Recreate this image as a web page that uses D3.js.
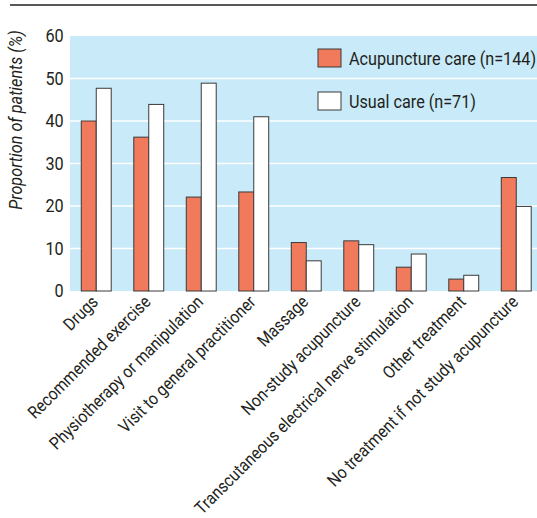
<!DOCTYPE html>
<html><head><meta charset="utf-8">
<script src="https://cdn.jsdelivr.net/npm/d3@7"></script>
<style>
body{margin:0;background:#fff;}
text{font-family:"Roboto","Liberation Sans",sans-serif;fill:#231f20;}
</style></head>
<body>
<svg id="c" width="537" height="518"></svg>
<script>
const categories = ["Drugs","Recommended exercise","Physiotherapy or manipulation","Visit to general practitioner","Massage","Non-study acupuncture","Transcutaneous electrical nerve stimulation","Other treatment","No treatment if not study acupuncture"];
const acupuncture = [40, 36.2, 22.1, 23.3, 11.4, 11.8, 5.6, 2.8, 26.7];
const usual = [47.7, 43.9, 48.9, 41.0, 7.1, 10.9, 8.7, 3.7, 19.9];
const seriesNames = ["Acupuncture care (n=144)", "Usual care (n=71)"];
const yTicks = [0,10,20,30,40,50,60];

const svg = d3.select("#c");
const mLeft = 70, mRight = 542.5, mTop = 36, mBottom = 291;
const x = d3.scaleBand().domain(categories).range([mLeft, mRight]).paddingInner(0.43).paddingOuter(0.215);
const y = d3.scaleLinear().domain([0,60]).range([mBottom, mTop]);
const colors = ["#f27a5c", "#ffffff"];
const SX = 0.9;

// top rule
svg.append("line").attr("x1",10).attr("x2",537).attr("y1",5).attr("y2",5).attr("stroke","#231f20").attr("stroke-width",1.5);

// background
svg.append("rect").attr("x",mLeft).attr("y",mTop).attr("width",537-mLeft).attr("height",mBottom-mTop).attr("fill","#c8eaf9");

// gridlines
svg.append("g").selectAll("line").data(yTicks.filter(d=>d>0&&d<60)).join("line")
  .attr("x1",mLeft).attr("x2",537).attr("y1",d=>y(d)).attr("y2",d=>y(d))
  .attr("stroke","#fff").attr("stroke-width",1.5);

// y axis labels
const yAxis = d3.axisLeft(y).tickValues(yTicks).tickSize(0).tickPadding(7);
const ya = svg.append("g").attr("transform",`translate(${mLeft},0)`).call(yAxis);
ya.select(".domain").remove();
ya.selectAll("text").attr("font-size",18).attr("font-family",'"Roboto",sans-serif').attr("fill","#231f20")
  .attr("transform",`scale(${SX},1)`);

// y title
svg.append("text").attr("transform",`translate(22,120) rotate(-90) scale(${SX},1)`).attr("text-anchor","middle")
  .attr("font-size",18).attr("font-style","italic").text("Proportion of patients (%)");

// bars
const inner = d3.scaleBand().domain([0,1]).range([0, x.bandwidth()]);
const series = [acupuncture, usual];
series.forEach((vals, si) => {
  svg.append("g").selectAll("rect").data(vals).join("rect")
    .attr("x",(d,i)=>x(categories[i]) + inner(si))
    .attr("y",d=>y(d))
    .attr("width",inner.bandwidth())
    .attr("height",d=>y(0)-y(d))
    .attr("fill",colors[si]).attr("stroke","#3a3a3a").attr("stroke-width",1);
});

// x labels
const xa = svg.append("g").attr("transform",`translate(0,${mBottom})`).call(d3.axisBottom(x).tickSize(0).tickPadding(0));
xa.select(".domain").remove();
xa.selectAll("text").attr("font-size",17.5).attr("font-family",'"Roboto",sans-serif').attr("fill","#231f20")
  .attr("text-anchor","end").attr("dy",0).attr("y",0)
  .attr("transform",`translate(3,12) rotate(-45) scale(0.885,1)`);

// legend
const lg = svg.append("g");
seriesNames.forEach((n,i)=>{
  const yy = 49 + i*43;
  lg.append("rect").attr("x",318).attr("y",yy).attr("width",23).attr("height",18)
    .attr("fill",colors[i]).attr("stroke","#3a3a3a").attr("stroke-width",1);
  lg.append("text").attr("transform",`translate(349,${yy+16}) scale(${SX},1)`).attr("font-size",18).text(n);
});
</script>
</body></html>
